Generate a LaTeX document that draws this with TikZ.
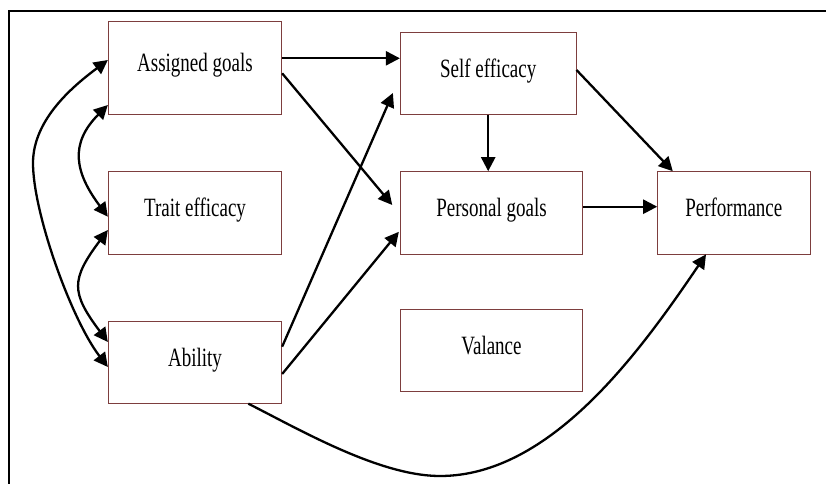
\documentclass[tikz,border=0pt]{standalone}
\usepackage{fontspec}
\usepackage{graphicx}
\setmainfont{Liberation Serif}
\usetikzlibrary{arrows.meta,calc}
\definecolor{boxedge}{RGB}{125,62,62}
% condensed label text
\newcommand{\boxtext}[1]{\scalebox{0.72}[1]{#1}}
\begin{document}
\begin{tikzpicture}[x=1pt,y=-1pt,
  box/.style={draw=boxedge, line width=0.9pt, rectangle, inner sep=0pt,
    text height=12pt, text depth=4pt, font=\fontsize{26.4}{30}\selectfont},
  link/.style={line width=2.3pt, -{Triangle[length=14pt,width=14pt]}},
  both/.style={line width=2.3pt, {Triangle[length=14pt,width=14pt]}-{Triangle[length=14pt,width=14pt]}},
  frameline/.style={line width=2pt}]
\useasboundingbox (0,0) rectangle (826,484);
\fill[white] (0,0) rectangle (826,484);

% outer frame (top and left edges)
\draw[frameline] (826,10.7) -- (9,10.7) -- (9,484);

% boxes
\node[box, minimum width=173.4pt, minimum height=92.6pt] (ag) at (195,68) {\boxtext{Assigned goals}};
\node[box, minimum width=173.4pt, minimum height=82.3pt] (te) at (195,212.8) {\boxtext{Trait efficacy}};
\node[box, minimum width=173.4pt, minimum height=82pt] (ab) at (195,362.7) {\boxtext{Ability}};
\node[box, minimum width=175.7pt, minimum height=82pt] (se) at (488.2,73.3) {\boxtext{Self efficacy}};
\node[box, minimum width=182.4pt, minimum height=82.3pt] (pg) at (491.5,212.8) {\boxtext{Personal goals}};
\node[box, minimum width=152.3pt, minimum height=82.3pt] (pf) at (733.8,212.8) {\boxtext{Performance}};
\node[box, minimum width=182.4pt, minimum height=82.4pt] (va) at (491.5,350.5) {\boxtext{Valance}};

% straight paths
\draw[link] ($(ag.east)+(0,-9.7)$) -- ($(se.west)+(0,-15)$);
\draw[link] ($(ag.east)+(0,5.3)$) -- ($(pg.west)+(-7.6,-7.8)$);
\draw[link] ($(ab.east)+(0,-16)$) -- ($(se.west)+(-7,19.7)$);
\draw[link] ($(ab.east)+(0,11.3)$) -- ($(pg.west)+(-1,19)$);
\draw[link] (se.south) -- (se.south |- pg.north);
\draw[link] ($(se.east)+(0,-3.3)$) -- ($(pf.north west)+(15.6,0)$);
\draw[link] ($(pg.east)+(0,-6.1)$) -- ($(pf.west)+(0,-6.1)$);

% curved path from Ability to Performance
\draw[link] ($(ab.south)+(53.3,-0.5)$) .. controls (301.4,430.6) and (380,476) .. (440,476)
  .. controls (550,476) and (638.8,353.6) .. ($(pf.south)+(-27.8,0)$);

% correlations on the left
\draw[both] ($(ag.west)+(0,-8)$) .. controls (76,84) and (33,118) .. (33,163)
  .. controls (33,213) and (71.4,319.6) .. ($(ab.west)+(0,4.3)$);
\draw[both] ($(ag.west)+(0,37)$) .. controls (69.1,143.9) and (75,172.7) .. ($(te.west)+(0,3.9)$);
\draw[both] ($(te.west)+(0,17.2)$) .. controls (70.8,279.6) and (70.8,292.4) .. ($(ab.west)+(0,-20.7)$);
\end{tikzpicture}
\end{document}
